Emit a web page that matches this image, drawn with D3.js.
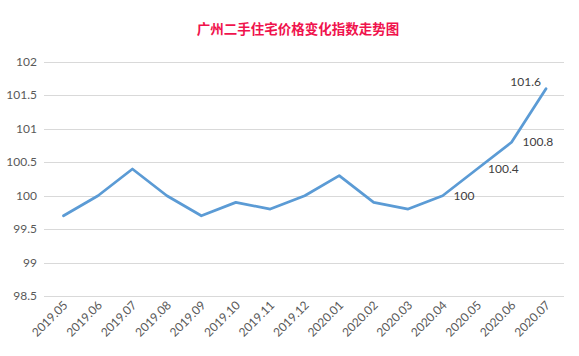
<!DOCTYPE html>
<html><head><meta charset="utf-8">
<script src="https://cdn.jsdelivr.net/npm/d3@7"></script>
<style>body{margin:0;background:#fff}svg{display:block}</style>
</head><body>
<script>
const categories = ["2019.05","2019.06","2019.07","2019.08","2019.09","2019.10","2019.11","2019.12","2020.01","2020.02","2020.03","2020.04","2020.05","2020.06","2020.07"];
const values = [99.7,100,100.4,100,99.7,99.9,99.8,100,100.3,99.9,99.8,100,100.4,100.8,101.6];
const yTicks = [98.5,99,99.5,100,100.5,101,101.5,102];
const labeledIdx = [11,12,13,14];
const title = "广州二手住宅价格变化指数走势图";

const W=579,H=356;
const svg=d3.select("body").append("svg").attr("width",W).attr("height",H);
const font="Lato, sans-serif";
const fs=12;
const x=d3.scalePoint().domain(categories).range([63.5,546]);
const y=d3.scaleLinear().domain([98.5,102]).range([296,62]);

svg.append("text").attr("x",298).attr("y",34).attr("text-anchor","middle")
 .attr("fill","#F0134D").attr("font-size",13.5).attr("font-weight","bold")
 .attr("font-family","'Noto Sans CJK SC', sans-serif").text(title);

const g=svg.append("g");
g.selectAll("line.grid").data(yTicks).join("line").attr("class","grid")
 .attr("x1",44).attr("x2",564).attr("y1",d=>Math.round(y(d))+0.5).attr("y2",d=>Math.round(y(d))+0.5)
 .attr("stroke","#D9D9D9").attr("stroke-width",1);
g.selectAll("text.yl").data(yTicks).join("text").attr("class","yl")
 .attr("x",37).attr("y",d=>y(d)+4).attr("text-anchor","end")
 .attr("font-size",fs).attr("fill","#595959").attr("font-family",font).text(d=>d);

g.selectAll("text.xl").data(categories).join("text").attr("class","xl")
 .attr("transform",d=>`translate(${x(d)+5},${306}) rotate(-45)`)
 .attr("text-anchor","end").attr("font-size",fs).attr("fill","#595959")
 .attr("font-family",font).text(d=>d);

const line=d3.line().x((d,i)=>x(categories[i])).y(d=>y(d));
g.append("path").datum(values).attr("d",line).attr("fill","none")
 .attr("stroke","#5B9BD5").attr("stroke-width",2.75).attr("stroke-linejoin","round").attr("stroke-linecap","round");

g.selectAll("text.dl").data(labeledIdx).join("text").attr("class","dl")
 .attr("x",i=> i===14 ? x(categories[i])-5 : x(categories[i])+11)
 .attr("y",i=> i===14 ? y(values[i])-3 : y(values[i])+4)
 .attr("text-anchor",i=> i===14 ? "end":"start")
 .attr("font-size",fs).attr("fill","#404040").attr("font-family",font)
 .text(i=>values[i]===100?"100":values[i].toFixed(1));
</script>
</body></html>
